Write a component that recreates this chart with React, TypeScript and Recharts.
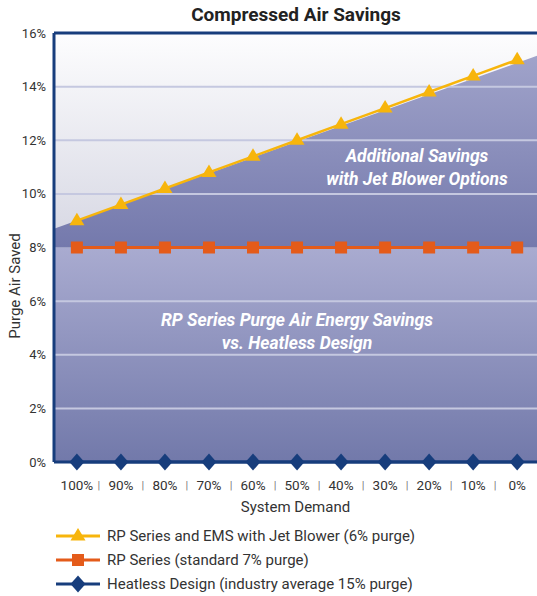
import { ComposedChart, Line, Area, XAxis, YAxis, ReferenceLine, Legend } from 'recharts'

const demand = ['100%', '90%', '80%', '70%', '60%', '50%', '40%', '30%', '20%', '10%', '0%']
const jetBlower = [9.0, 9.6, 10.2, 10.8, 11.4, 12.0, 12.6, 13.2, 13.8, 14.4, 15.0]
const standard = [8, 8, 8, 8, 8, 8, 8, 8, 8, 8, 8]
const heatless = [0, 0, 0, 0, 0, 0, 0, 0, 0, 0, 0]
const yTicks = [0, 2, 4, 6, 8, 10, 12, 14, 16]
const gridLevels = [2, 4, 6, 10, 12, 14]

const edgeX = [-0.52, 10.45]
const savingsEdge = [8.7, 15.15]

const FONT = 'Roboto, "Liberation Sans", sans-serif'
const BLUE = '#173d7c'
const ORANGE = '#e45b1a'
const YELLOW = '#f7b50c'

const rows = demand.map((d, i) => ({
  x: i,
  label: d,
  jet: jetBlower[i],
  std: standard[i],
  heat: heatless[i],
}))

const bandRows = edgeX.map((x, i) => ({ x, top: 16, mid: savingsEdge[i], low: 8 }))

const xTicks = demand.flatMap((_, i) => (i < demand.length - 1 ? [i, i + 0.5] : [i]))

const series = [
  { key: 'jet', name: 'RP Series and EMS with Jet Blower (6% purge)', color: YELLOW },
  { key: 'std', name: 'RP Series (standard 7% purge)', color: ORANGE },
  { key: 'heat', name: 'Heatless Design (industry average 15% purge)', color: BLUE },
]

const marker = (key: string, cx: number, cy: number, color: string) => {
  if (key === 'jet')
    return <polygon points={`${cx},${cy - 8} ${cx + 7.5},${cy + 4.5} ${cx - 7.5},${cy + 4.5}`} fill={color} />
  if (key === 'std') return <rect x={cx - 6} y={cy - 6} width={12} height={12} fill={color} />
  return <polygon points={`${cx},${cy - 8.5} ${cx + 7.5},${cy} ${cx},${cy + 8.5} ${cx - 7.5},${cy}`} fill={color} />
}

const dotFor = (key: string, color: string) => (props: any) => (
  <g key={`${key}-${props.index}`}>{marker(key, props.cx, props.cy, color)}</g>
)

const DemandTick = (props: any) => {
  const { x, y, payload } = props
  const v = payload.value
  if (v % 1 !== 0) {
    return (
      <text x={x} y={y} dy={25} textAnchor="middle" fill="#777" fontSize={11} fontFamily={FONT}>
        |
      </text>
    )
  }
  return (
    <text x={x} y={y} dy={26} textAnchor="middle" fill="#333" fontSize={13.5} fontFamily={FONT}>
      {demand[v]}
    </text>
  )
}

const LegendRows = (props: any) => {
  const payload = props.payload || []
  return (
    <div style={{ fontFamily: FONT, fontSize: 15, color: '#333' }}>
      {series.map((s) => {
        const item = payload.find((p: any) => p.dataKey === s.key)
        if (!item) return null
        return (
          <div key={s.key} style={{ display: 'flex', alignItems: 'center', height: 24 }}>
            <svg width={44} height={24}>
              <line x1={0} x2={44} y1={12} y2={12} stroke={s.color} strokeWidth={3} />
              {marker(s.key, 22, 12, s.color)}
            </svg>
            <span style={{ marginLeft: 7 }}>{item.value}</span>
          </div>
        )
      })}
    </div>
  )
}

const noteStyle = {
  position: 'absolute' as const,
  textAlign: 'center' as const,
  fontFamily: FONT,
  fontWeight: 'bold' as const,
  fontStyle: 'italic' as const,
  fontSize: 17.5,
  lineHeight: '23px',
  color: '#fff',
  whiteSpace: 'nowrap' as const,
}

export default function App() {
  return (
    <div style={{ position: 'absolute', left: 0, top: 0, width: 537, height: 596, overflow: 'hidden', background: '#fff' }}>
      <div
        style={{
          position: 'absolute',
          left: 0,
          width: 592,
          top: 3,
          textAlign: 'center',
          fontFamily: FONT,
          fontWeight: 'bold',
          fontSize: 19,
          color: '#222',
        }}
      >
        Compressed Air Savings
      </div>
      <ComposedChart width={537} height={596} margin={{ top: 33, right: 0, bottom: 74, left: 0 }}>
        <defs>
          <linearGradient id="grayBand" x1="0" y1="0" x2="0" y2="1">
            <stop offset="0%" stopColor="#fdfdfe" />
            <stop offset="100%" stopColor="#d6d7e3" />
          </linearGradient>
          <linearGradient id="lowBand" x1="0" y1="0" x2="0" y2="1">
            <stop offset="0%" stopColor="#a9abd0" />
            <stop offset="100%" stopColor="#7279aa" />
          </linearGradient>
          <linearGradient id="midBand" x1="0" y1="0" x2="0" y2="1">
            <stop offset="0%" stopColor="#a0a3ca" />
            <stop offset="100%" stopColor="#7479ac" />
          </linearGradient>
        </defs>
        <XAxis
          dataKey="x"
          type="number"
          domain={[edgeX[0], edgeX[1]]}
          ticks={xTicks}
          allowDataOverflow
          interval={0}
          height={60}
          tickLine={false}
          tickSize={0}
          axisLine={{ stroke: BLUE, strokeWidth: 3 }}
          tick={<DemandTick />}
          label={{
            content: (p: any) => (
              <text
                x={p.viewBox.x + p.viewBox.width / 2}
                y={p.viewBox.y + 50}
                textAnchor="middle"
                fill="#333"
                fontSize={15}
                fontFamily={FONT}
              >
                System Demand
              </text>
            ),
          }}
        />
        <YAxis
          type="number"
          domain={[0, 16]}
          ticks={yTicks}
          interval={0}
          width={54}
          tickLine={false}
          axisLine={{ stroke: BLUE, strokeWidth: 3 }}
          tickFormatter={(v) => `${v}%`}
          tick={{ fill: '#333', fontSize: 13, fontFamily: FONT }}
          label={{
            content: () => (
              <text
                transform="translate(15,286) rotate(-90)"
                textAnchor="middle"
                dominantBaseline="central"
                fill="#333"
                fontSize={15}
                fontFamily={FONT}
              >
                Purge Air Saved
              </text>
            ),
          }}
        />
        <Area data={bandRows} dataKey="top" baseValue={8} type="linear" stroke="none" fill="url(#grayBand)" fillOpacity={1} legendType="none" isAnimationActive={false} />
        <Area data={bandRows} dataKey="low" baseValue={0} type="linear" stroke="none" fill="url(#lowBand)" fillOpacity={1} legendType="none" isAnimationActive={false} />
        <Area data={bandRows} dataKey="mid" baseValue={8} type="linear" stroke="none" fill="url(#midBand)" fillOpacity={1} legendType="none" isAnimationActive={false} />
        {gridLevels.map((g) => (
          <ReferenceLine key={g} y={g} stroke="#c5c8e0" strokeWidth={2} />
        ))}
        <ReferenceLine y={16} stroke={BLUE} strokeWidth={3} />
        <Line data={rows} dataKey="jet" name={series[0].name} type="linear" stroke={YELLOW} strokeWidth={2.5} dot={dotFor('jet', YELLOW)} activeDot={false} isAnimationActive={false} />
        <Line data={rows} dataKey="std" name={series[1].name} type="linear" stroke={ORANGE} strokeWidth={3} dot={dotFor('std', ORANGE)} activeDot={false} isAnimationActive={false} />
        <Line data={rows} dataKey="heat" name={series[2].name} type="linear" stroke={BLUE} strokeWidth={3} dot={dotFor('heat', BLUE)} activeDot={false} isAnimationActive={false} />
        <Legend
          layout="vertical"
          align="center"
          verticalAlign="middle"
          content={<LegendRows />}
          wrapperStyle={{ left: 56, top: 524, width: 470 }}
        />
      </ComposedChart>
      <div style={{ ...noteStyle, left: 267, top: 145, width: 300 }}>
        Additional Savings
        <br />
        with Jet Blower Options
      </div>
      <div style={{ ...noteStyle, left: 147, top: 309, width: 300 }}>
        RP Series Purge Air Energy Savings
        <br />
        vs. Heatless Design
      </div>
    </div>
  )
}
